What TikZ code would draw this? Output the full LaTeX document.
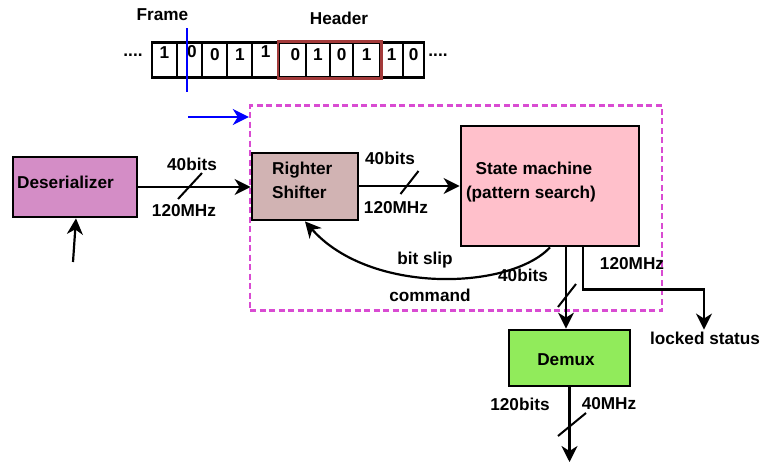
\documentclass[tikz,border=0pt]{standalone}
\usepackage{fontspec}
\setmainfont{Liberation Sans}
\usetikzlibrary{arrows.meta,calc}
\definecolor{desfill}{HTML}{D48DC6}
\definecolor{rsfill}{HTML}{D1B3B3}
\definecolor{smfill}{HTML}{FFC0CB}
\definecolor{dmfill}{HTML}{91EB5B}
\definecolor{hdrred}{HTML}{A33A3A}
\definecolor{grpmag}{HTML}{D94BD2}
\definecolor{frblue}{HTML}{0000FF}
\begin{document}
\begin{tikzpicture}[x=1pt,y=-1pt,
  txt/.style={inner sep=0pt,text depth=0pt,font=\fontsize{17.2}{20}\selectfont\bfseries},
  box/.style={draw=black,line width=2.8pt,inner sep=0pt,anchor=center},
  cellbox/.style={draw=black,line width=2.2pt,inner sep=0pt,minimum height=35pt},
  tip/.style={-{Stealth[length=16pt,width=16pt,inset=5pt]}},
  conn/.style={draw=black,line width=2.2pt,tip},
  slashline/.style={draw=black,line width=2pt},
  grpbox/.style={draw=grpmag,line width=2.4pt,dash pattern=on 6pt off 3.5pt,inner sep=0pt,minimum width=412pt,minimum height=205pt},
  blueline/.style={draw=frblue,line width=2.3pt},
]
\useasboundingbox (0,0) rectangle (766,464);

% group
\node[grpbox] (grp) at (456,208) {};

% tape
\foreach \i/\a/\b/\d/\bl/\dx in {1/151.7/177.3/1/58.3/0,2/177.3/202.3/0/57.3/2,3/202.3/227.3/0/60.7/0,4/227.3/252.3/1/60/0,5/252.3/279/1/57.3/0,6/279/306/0/60.7/3,7/306/330/1/60.7/0,8/330/353.3/0/60.7/0,9/353.3/380/1/60.7/0,10/380/403.3/1/60.7/0,11/403.3/424/0/60.7/0}{
  \node[cellbox,minimum width={(\b-\a)*1pt}] (c\i) at ({(\a+\b)/2},60) {};
  \node[txt,anchor=base] (d\i) at ({(\a+\b)/2+\dx},\bl) {\d};
}
\draw[hdrred,line width=2.8pt] (c6.north west) rectangle (c9.south east);
\node[txt,anchor=base] (dotsl) at (133,56) {....};
\node[txt,anchor=base] (dotsr) at (438,56) {....};
\node[txt] (frame) at (162.5,15) {Frame};
\node[txt] (header) at (339,18) {Header};

% frame marker and blue arrow
\coordinate (ft) at (186.7,28);
\coordinate (fb) at (186.7,92);
\draw[blueline] (ft) -- (fb);
\coordinate (bst) at (188,117);
\draw[blueline,tip] (bst) -- (bst -| grp.west);

% boxes
\node[box,fill=desfill,minimum width=124pt,minimum height=60pt] (des) at (75,187) {};
\node[txt,anchor=west] (destxt) at (17,182) {Deserializer};
\node[box,fill=rsfill,minimum width=106pt,minimum height=67pt] (rs) at (305,186.5) {};
\node[txt,anchor=west] (rst1) at (272,168) {Righter};
\node[txt,anchor=west] (rst2) at (272,192) {Shifter};
\node[box,fill=smfill,minimum width=178pt,minimum height=120pt] (sm) at (550,186) {};
\node[txt] (smt1) at (534,168) {State machine};
\node[txt] (smt2) at (531,192) {(pattern search)};
\node[box,fill=dmfill,minimum width=121pt,minimum height=56pt] (dm) at (569.5,358) {};
\node[txt] (dmt) at (566,360) {Demux};

% input
\coordinate (in) at (73,262);
\draw[conn] (in) -- ([xshift=1pt]des.south);

% des -> rs
\draw[conn] (des.east) -- coordinate[pos=0.46] (s1) (des.east -| rs.west);
\draw[slashline] ($(s1)+(-12,12)$) -- ($(s1)+(12,-14)$);
\node[txt] (l1) at (192,164) {40bits};
\node[txt] (l2) at (184,210) {120MHz};

% rs -> sm
\draw[conn] (rs.east |- sm.west) -- coordinate[pos=0.5] (s2) (sm.west);
\draw[slashline] ($(s2)+(-9,8)$) -- ($(s2)+(9,-15)$);
\node[txt] (l3) at (390,158) {40bits};
\node[txt] (l4) at (396,207) {120MHz};

% bit slip
\draw[conn] (sm.south) .. controls (510,290) and (370,295) .. (rs.south);
\node[txt] (l5) at (425,258) {bit slip};
\node[txt] (l6) at (430,295) {command};
\node[txt] (l7) at (523,275) {40bits};

% sm -> demux
\draw[conn] ([xshift=16pt]sm.south) -- ([xshift=16pt]sm.south |- dm.north);
\coordinate (s3c) at (567,295.5);
\draw[slashline] ($(s3c)+(-9,11.5)$) -- ($(s3c)+(9,-11.5)$);

% locked status
\node[txt] (ls) at (705,338) {locked status};
\draw[conn] ([xshift=33pt]sm.south) |- ([yshift=42pt]ls.north -| 704,0) -- ([yshift=2pt]ls.north -| 704,0);
\node[txt] (l8) at (632,263) {120MHz};

% output
\coordinate (out) at (569.5,462);
\draw[conn] (dm.south) -- (out);
\coordinate (s4c) at (572,424.5);
\draw[slashline] ($(s4c)+(-14,11.5)$) -- ($(s4c)+(14,-11.5)$);
\node[txt] (l9) at (520,404) {120bits};
\node[txt] (l10) at (609,403) {40MHz};
\end{tikzpicture}
\end{document}
